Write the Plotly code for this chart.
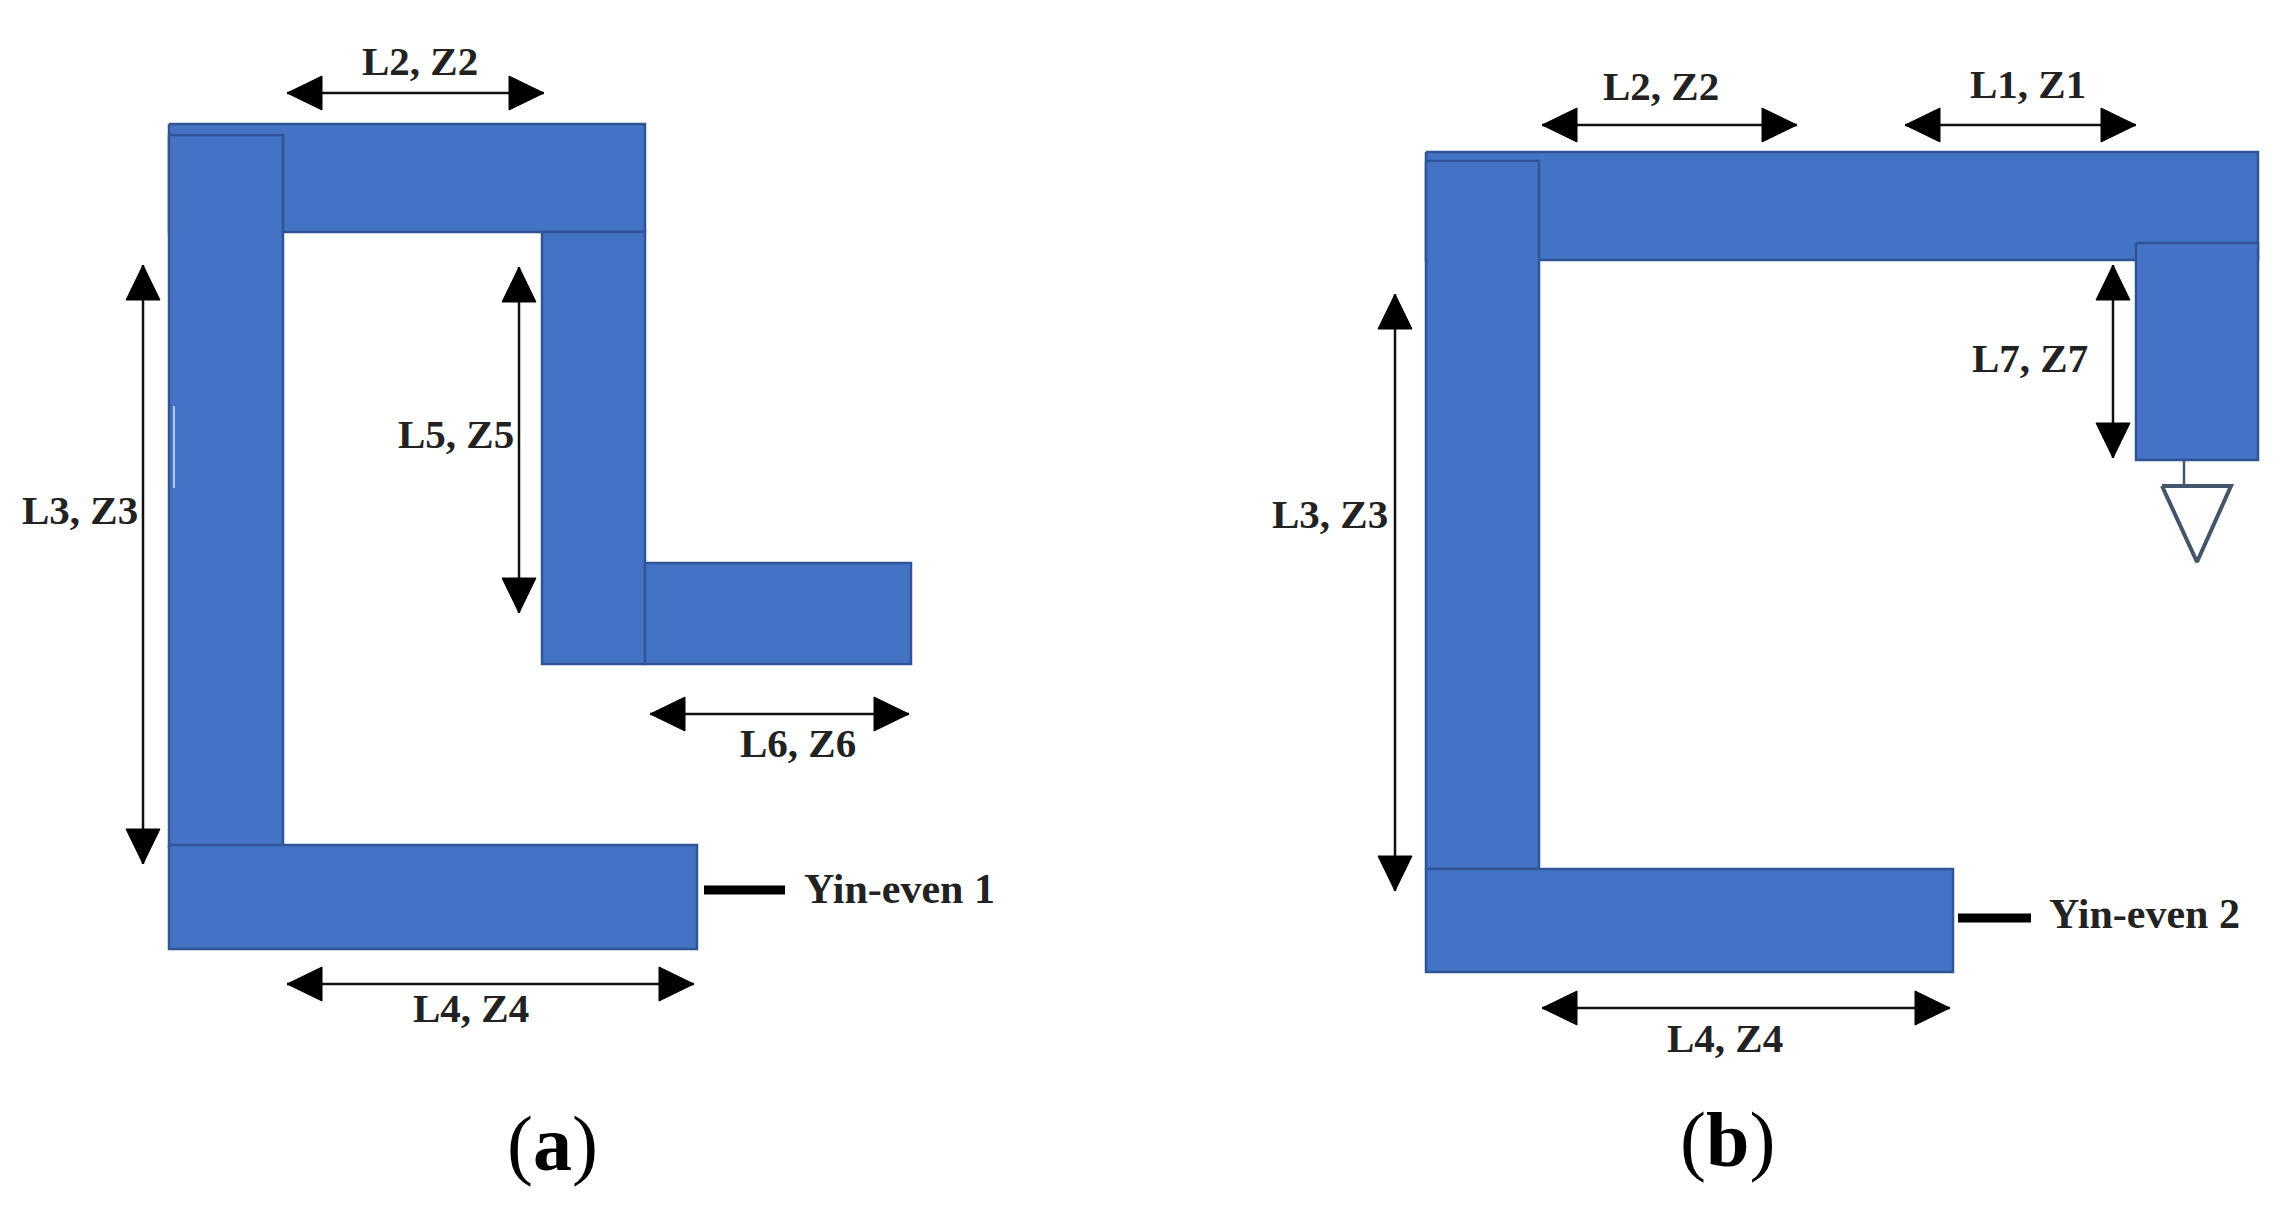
import plotly.graph_objects as go

# picture coordinates, y runs downwards
BLUE = "#4472C4"
EDGE = "#2F5597"

# microstrip sections: panel (a)
a_names = ["L2", "L3", "L4", "L5", "L6"]
a_x0 = [169, 169, 169, 542, 645]
a_x1 = [645, 283, 697, 645, 911]
a_y0 = [124, 135, 845, 232, 563]
a_y1 = [232, 847, 949, 664, 664]

# microstrip sections: panel (b)
b_names = ["L1-L2", "L3", "L4", "L7"]
b_x0 = [1426, 1426, 1426, 2136]
b_x1 = [2258, 1539, 1953, 2258]
b_y0 = [152, 161, 869, 243]
b_y1 = [260, 869, 972, 460]

# dimension arrows, start and end
arrow_x0 = [287, 143, 519, 650, 287, 1542, 1905, 1395, 2113, 1542]
arrow_x1 = [544, 143, 519, 909, 694, 1797, 2136, 1395, 2113, 1950]
arrow_y0 = [93, 265, 267, 714, 984, 125, 125, 294, 265, 1008]
arrow_y1 = [93, 864, 613, 714, 984, 125, 125, 891, 458, 1008]

# labels
label_text = ["L2, Z2", "L3, Z3", "L5, Z5", "L6, Z6", "L4, Z4",
              "L2, Z2", "L1, Z1", "L3, Z3", "L7, Z7", "L4, Z4"]
label_x = [420, 80, 456, 798, 471, 1661, 2028, 1330, 2030, 1725]
label_y = [61, 510, 434, 743, 1008, 86, 84, 514, 358, 1038]

# port stubs
port_text = ["Yin-even 1", "Yin-even 2"]
port_x0 = [704, 1958]
port_x1 = [785, 2031]
port_y = [890, 918]
port_label_x = [899, 2144]
port_label_y = [889, 914]

# panel captions
caption_text = ["(<b>a</b>)", "(<b>b</b>)"]
caption_x = [552, 1727]
caption_y = [1143, 1139]

# ground symbol
wire_x = [2184, 2184]
wire_y = [460, 484]
ground_x = [2162, 2231, 2197, 2162]
ground_y = [486, 486, 562, 486]

# pale scratch on the left edge of panel (a)
scratch_x = [174, 174]
scratch_y = [406, 488]

HEAD_LEN = 35
HEAD_HALF = 17

fig = go.Figure()


def add_section(x0, x1, y0, y1):
    fig.add_trace(go.Scatter(
        x=[x0, x1, x1, x0, x0], y=[y0, y0, y1, y1, y0],
        mode="lines", fill="toself", fillcolor=BLUE,
        line=dict(color=EDGE, width=2.5), hoverinfo="skip"))


def add_arrow(x0, x1, y0, y1):
    fig.add_trace(go.Scatter(x=[x0, x1], y=[y0, y1], mode="lines",
                             line=dict(color="#111111", width=2.5), hoverinfo="skip"))
    if y0 == y1:
        hx = [x0, x0 + HEAD_LEN, x0 + HEAD_LEN, x0, None, x1, x1 - HEAD_LEN, x1 - HEAD_LEN, x1]
        hy = [y0, y0 - HEAD_HALF, y0 + HEAD_HALF, y0, None, y0, y0 - HEAD_HALF, y0 + HEAD_HALF, y0]
    else:
        hx = [x0, x0 - HEAD_HALF, x0 + HEAD_HALF, x0, None, x0, x0 - HEAD_HALF, x0 + HEAD_HALF, x0]
        hy = [y0, y0 + HEAD_LEN, y0 + HEAD_LEN, y0, None, y1, y1 - HEAD_LEN, y1 - HEAD_LEN, y1]
    fig.add_trace(go.Scatter(x=hx, y=hy, mode="lines", fill="toself", fillcolor="#000000",
                             line=dict(color="#000000", width=1), hoverinfo="skip"))


for i in range(len(a_names)):
    add_section(a_x0[i], a_x1[i], a_y0[i], a_y1[i])
for i in range(len(b_names)):
    add_section(b_x0[i], b_x1[i], b_y0[i], b_y1[i])

fig.add_trace(go.Scatter(x=scratch_x, y=scratch_y, mode="lines",
                         line=dict(color="#B4C7E7", width=2), hoverinfo="skip"))

for i in range(len(arrow_x0)):
    add_arrow(arrow_x0[i], arrow_x1[i], arrow_y0[i], arrow_y1[i])

# ports
for i in range(len(port_text)):
    fig.add_trace(go.Scatter(x=[port_x0[i], port_x1[i]], y=[port_y[i], port_y[i]], mode="lines",
                             line=dict(color="#000000", width=9), hoverinfo="skip"))
    fig.add_annotation(x=port_label_x[i], y=port_label_y[i], text="<b>" + port_text[i] + "</b>",
                       showarrow=False, font=dict(family="Liberation Serif", size=42, color="#222222"))

# ground
fig.add_trace(go.Scatter(x=wire_x, y=wire_y, mode="lines", line=dict(color="#44546A", width=2.5), hoverinfo="skip"))
fig.add_trace(go.Scatter(x=ground_x, y=ground_y, mode="lines", line=dict(color="#44546A", width=4), hoverinfo="skip"))

for i in range(len(label_text)):
    fig.add_annotation(x=label_x[i], y=label_y[i], text="<b>" + label_text[i] + "</b>",
                       showarrow=False, font=dict(family="Liberation Serif", size=41, color="#222222"))

for i in range(len(caption_text)):
    fig.add_annotation(x=caption_x[i], y=caption_y[i], text=caption_text[i],
                       showarrow=False, font=dict(family="Liberation Serif", size=78, color="#000000"))

fig.update_layout(
    width=2293, height=1207, margin=dict(l=0, r=0, t=0, b=0),
    paper_bgcolor="white", plot_bgcolor="white", showlegend=False,
    xaxis=dict(range=[0, 2293], visible=False, fixedrange=True),
    yaxis=dict(range=[1207, 0], visible=False, fixedrange=True),
)

fig.write_html("out.html", config={"displayModeBar": False},
               post_script="document.body.style.margin='0';document.body.style.overflow='hidden';")
